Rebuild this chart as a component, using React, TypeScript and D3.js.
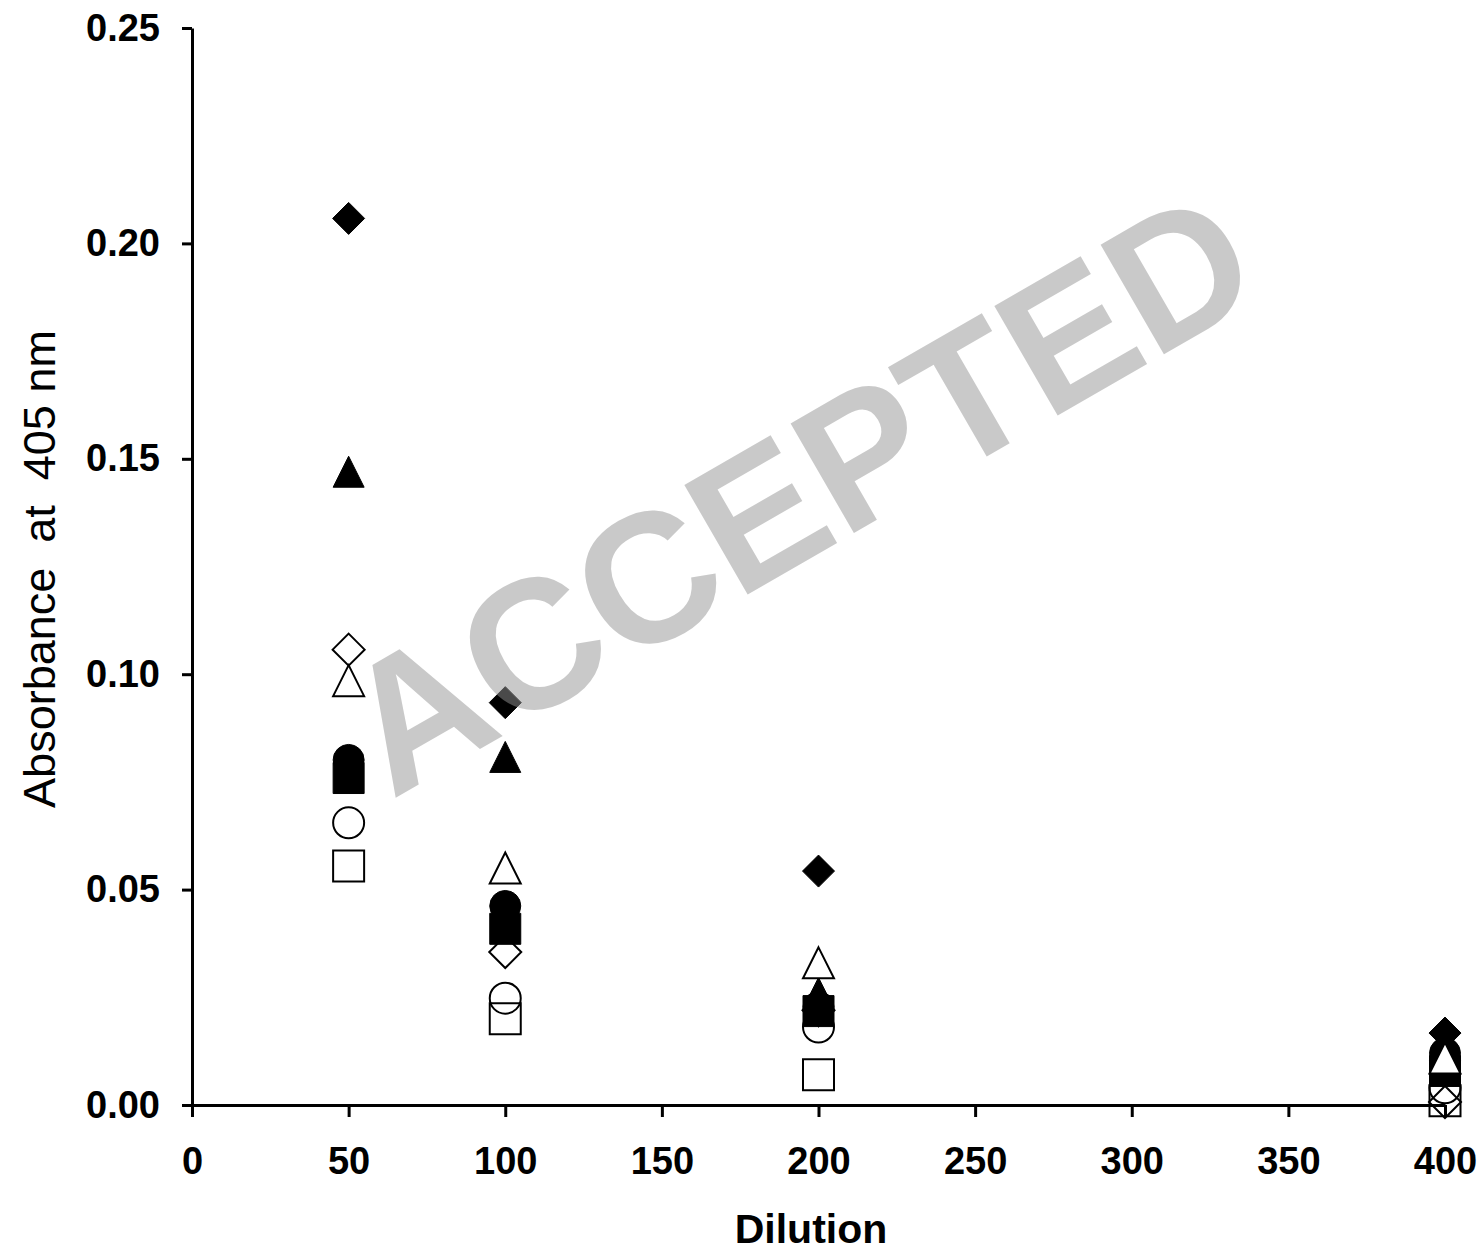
import { useRef, useEffect } from 'react';
import * as d3 from 'd3';

// dilution steps on the x axis
const dilutions = [50, 100, 200, 400];

// absorbance at 405 nm, one array per sample
const openDiamond = [0.1057, 0.0355, 0.022, 0.0007];
const openCircle = [0.0655, 0.0248, 0.0181, 0.004];
const openSquare = [0.0555, 0.0200, 0.0070, 0.0010];
const filledCircle = [0.0801, 0.0462, 0.0228, 0.012];
const filledSquare = [0.0759, 0.0409, 0.0218, 0.0079];
const filledTriangle = [0.147, 0.0808, 0.026, 0.014];
const filledDiamond = [0.2058, 0.0934, 0.0543, 0.0167];
const openTriangle = [0.0985, 0.0550, 0.0330, 0.0109];

const xTicks = [0, 50, 100, 150, 200, 250, 300, 350, 400];
const yTicks = [0, 0.05, 0.1, 0.15, 0.2, 0.25];

// drawing order matters: later series sit on top
const series = [
    { values: openDiamond, shape: 'diamond', filled: false },
    { values: openCircle, shape: 'circle', filled: false },
    { values: openSquare, shape: 'square', filled: false },
    { values: filledCircle, shape: 'circle', filled: true },
    { values: filledSquare, shape: 'square', filled: true },
    { values: filledTriangle, shape: 'triangle', filled: true },
    { values: filledDiamond, shape: 'diamond', filled: true },
    { values: openTriangle, shape: 'triangle', filled: false, white: true },
];

function markerPath(shape: string, r: number) {
    const p = d3.path();
    if (shape === 'circle') {
        p.arc(0, 0, r, 0, 2 * Math.PI);
    } else if (shape === 'square') {
        p.rect(-r, -r, 2 * r, 2 * r);
    } else if (shape === 'diamond') {
        p.moveTo(0, -r);
        p.lineTo(r, 0);
        p.lineTo(0, r);
        p.lineTo(-r, 0);
        p.closePath();
    } else {
        p.moveTo(0, -r);
        p.lineTo(r, r);
        p.lineTo(-r, r);
        p.closePath();
    }
    return p.toString();
}

function App() {

    const svgRef = useRef<SVGSVGElement>(null);

    useEffect(() => {
        const width = 1480;
        const height = 1252;
        const left = 192;
        const right = 1445;
        const top = 28;
        const bottom = 1105;

        const svg = d3.select(svgRef.current)
            .attr("width", width)
            .attr("height", height)
            .attr("viewBox", [0, 0, width, height]);

        svg.selectAll("*").remove();

        const x = d3.scaleLinear().domain([0, 400]).range([left, right]);
        const y = d3.scaleLinear().domain([0, 0.25]).range([bottom, top]);

        //Axes
        const yAxis = svg.append("g")
            .attr("transform", `translate(${left},0)`)
            .call(d3.axisLeft(y).tickValues(yTicks).tickFormat(d3.format(".2f"))
                .tickSize(10).tickSizeOuter(0).tickPadding(22));

        const xAxis = svg.append("g")
            .attr("transform", `translate(0,${bottom})`)
            .call(d3.axisBottom(x).tickValues(xTicks).tickFormat(d3.format("d"))
                .tickSize(12).tickSizeOuter(0).tickPadding(30));

        [yAxis, xAxis].forEach(ax => {
            ax.select(".domain").attr("stroke", "#000").attr("stroke-width", 3);
            ax.selectAll(".tick line").attr("stroke", "#000").attr("stroke-width", 3);
            ax.selectAll(".tick text")
                .attr("fill", "#000")
                .attr("font-family", "'Liberation Sans', Arial, sans-serif")
                .attr("font-weight", "700")
                .attr("font-size", "38px");
        });

        //Axis titles
        svg.append("text")
            .attr("transform", `translate(55,569) rotate(-90)`)
            .attr("text-anchor", "middle")
            .attr("font-family", "'Liberation Sans', Arial, sans-serif")
            .attr("font-size", "45px")
            .attr("fill", "#000")
            .style("white-space", "pre")
            .text("Absorbance  at  405 nm");

        svg.append("text")
            .attr("x", 811)
            .attr("y", 1243)
            .attr("text-anchor", "middle")
            .attr("font-family", "'Liberation Sans', Arial, sans-serif")
            .attr("font-weight", "700")
            .attr("font-size", "41px")
            .attr("fill", "#000")
            .text("Dilution");

        //Markers
        const r = 16.5;
        series.forEach(s => {
            svg.append("g")
                .selectAll("path")
                .data(s.values)
                .join("path")
                .attr("transform", (d, i) => `translate(${x(dilutions[i])},${y(d)})`)
                .attr("d", markerPath(s.shape, s.shape === 'diamond' ? r - 0.5 : r - 1))
                .attr("fill", s.filled ? "#000" : (s.white ? "#fff" : "none"))
                .attr("stroke", "#000")
                .attr("stroke-width", s.filled ? 1 : 2);
        });

        //Watermark
        svg.append("text")
            .attr("transform", `translate(830,547) rotate(-30)`)
            .attr("text-anchor", "middle")
            .attr("font-family", "'Liberation Sans', Arial, sans-serif")
            .attr("font-weight", "700")
            .attr("font-size", "184px")
            .attr("fill", "rgb(147,147,147)")
            .attr("fill-opacity", 0.5)
            .text("ACCEPTED");
    }, []);

    return (
        <svg ref={svgRef} style={{ position: 'absolute', left: 0, top: 0, background: '#fff' }} />
    );
}

export default App;
